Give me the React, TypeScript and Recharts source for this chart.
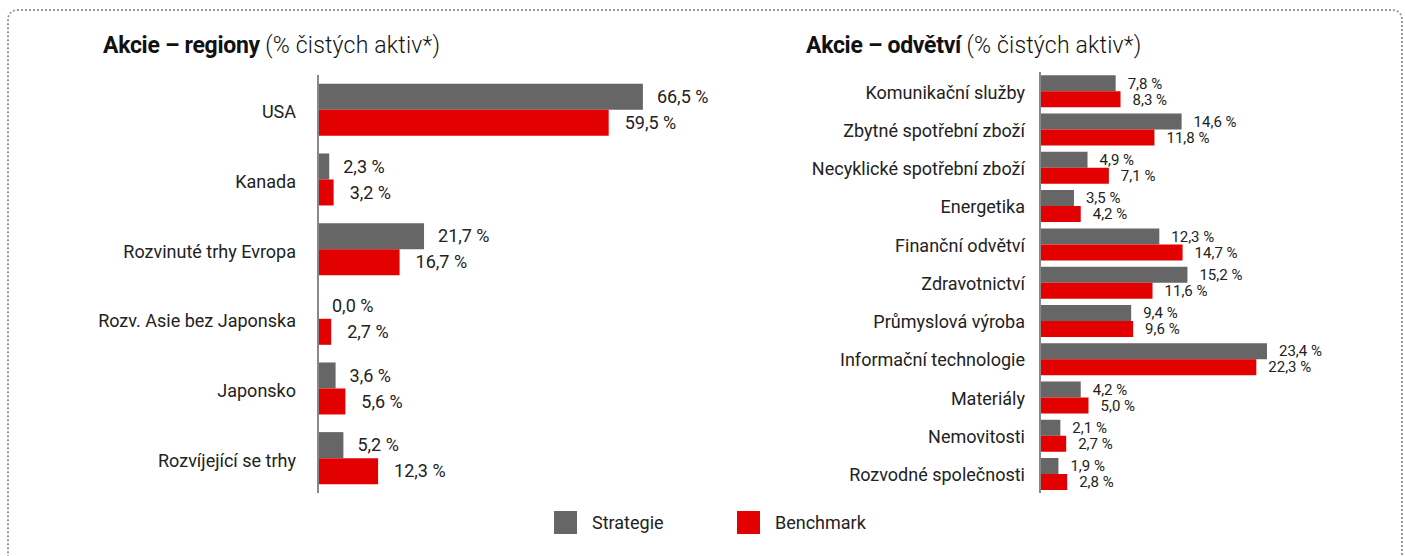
import { BarChart, Bar, XAxis, YAxis, LabelList } from "recharts";

const GRAY = "#666666";
const RED = "#e20000";
const FONT = "Roboto, 'Noto Sans', sans-serif";

const regions = [
  "USA",
  "Kanada",
  "Rozvinuté trhy Evropa",
  "Rozv. Asie bez Japonska",
  "Japonsko",
  "Rozvíjející se trhy",
];
const regionStrategy = [66.5, 2.3, 21.7, 0.0, 3.6, 5.2];
const regionBenchmark = [59.5, 3.2, 16.7, 2.7, 5.6, 12.3];

const sectors = [
  "Komunikační služby",
  "Zbytné spotřební zboží",
  "Necyklické spotřební zboží",
  "Energetika",
  "Finanční odvětví",
  "Zdravotnictví",
  "Průmyslová výroba",
  "Informační technologie",
  "Materiály",
  "Nemovitosti",
  "Rozvodné společnosti",
];
const sectorStrategy = [7.8, 14.6, 4.9, 3.5, 12.3, 15.2, 9.4, 23.4, 4.2, 2.1, 1.9];
const sectorBenchmark = [8.3, 11.8, 7.1, 4.2, 14.7, 11.6, 9.6, 22.3, 5.0, 2.7, 2.8];

const regionData = regions.map((name, i) => ({
  name,
  strategy: regionStrategy[i],
  benchmark: regionBenchmark[i],
}));
const sectorData = sectors.map((name, i) => ({
  name,
  strategy: sectorStrategy[i],
  benchmark: sectorBenchmark[i],
}));

const fmt = (v: number) => `${Number(v).toFixed(1).replace(".", ",")} %`;

// value label to the right of the bar end
const valueLabel = (offset: number, size: number) => (p: any) => {
  const { x, y, width, height, value } = p;
  if (value == null) return null;
  const v = Array.isArray(value) ? value[1] - value[0] : Number(value);
  const w = v === 0 ? 0 : Number(width || 0);
  return (
    <text
      x={Number(x) + w + offset}
      y={Number(y) + Number(height) / 2}
      dy="0.35em"
      fill="#222"
      fontSize={size}
      fontFamily={FONT}
    >
      {fmt(v)}
    </text>
  );
};

function Title({ bold, rest, left }: { bold: string; rest: string; left: number }) {
  return (
    <div
      style={{
        position: "absolute",
        left,
        top: 32,
        fontFamily: FONT,
        fontSize: 23,
        color: "#111",
        whiteSpace: "nowrap",
        letterSpacing: -0.3,
      }}
    >
      <b>{bold}</b> <span style={{ fontWeight: 300, letterSpacing: 0.2 }}>{rest}</span>
    </div>
  );
}

export default function App() {
  return (
    <div
      style={{
        position: "absolute",
        left: 0,
        top: 0,
        width: 1405,
        height: 556,
        overflow: "hidden",
        background: "#fff",
      }}
    >
      <div
        style={{
          position: "absolute",
          left: 7,
          top: 9,
          width: 1392,
          height: 620,
          border: "2px dotted #9a9a9a",
          borderRadius: 10,
        }}
      />
      <Title left={103} bold="Akcie – regiony" rest="(% čistých aktiv*)" />
      <Title left={806} bold="Akcie – odvětví" rest="(% čistých aktiv*)" />

      <div style={{ position: "absolute", left: 0, top: 0 }}>
        <BarChart
          width={760}
          height={556}
          data={regionData}
          layout="vertical"
          margin={{ top: 75, right: 100, bottom: 63, left: 0 }}
          barCategoryGap={8.8}
          barGap={0}
        >
          <XAxis type="number" domain={[0, 70]} hide />
          <YAxis
            type="category"
            dataKey="name"
            width={318}
            tickLine={false}
            tickMargin={16}
            axisLine={{ stroke: "#888", strokeWidth: 2 }}
            tick={{ fill: "#222", fontSize: 18, fontFamily: FONT, dy: 2 }}
            interval={0}
          />
          <Bar dataKey="strategy" fill={GRAY} minPointSize={0.5} isAnimationActive={false}>
            <LabelList dataKey="strategy" content={valueLabel(14, 18)} />
          </Bar>
          <Bar dataKey="benchmark" fill={RED} isAnimationActive={false}>
            <LabelList dataKey="benchmark" content={valueLabel(16, 18)} />
          </Bar>
        </BarChart>
      </div>

      <div style={{ position: "absolute", left: 700, top: 0 }}>
        <BarChart
          width={705}
          height={556}
          data={sectorData}
          layout="vertical"
          margin={{ top: 72, right: 74, bottom: 63, left: 0 }}
          barCategoryGap={3.3}
          barGap={0}
        >
          <XAxis type="number" domain={[0, 30]} hide />
          <YAxis
            type="category"
            dataKey="name"
            width={340}
            tickLine={false}
            tickMargin={9}
            axisLine={{ stroke: "#888", strokeWidth: 2 }}
            tick={{ fill: "#222", fontSize: 18, fontFamily: FONT, dy: 1 }}
            interval={0}
          />
          <Bar dataKey="strategy" fill={GRAY} isAnimationActive={false}>
            <LabelList dataKey="strategy" content={valueLabel(12, 15)} />
          </Bar>
          <Bar dataKey="benchmark" fill={RED} isAnimationActive={false}>
            <LabelList dataKey="benchmark" content={valueLabel(12, 15)} />
          </Bar>
        </BarChart>
      </div>

      {[
        { label: "Strategie", color: GRAY, left: 554 },
        { label: "Benchmark", color: RED, left: 737 },
      ].map((it) => (
        <div
          key={it.label}
          style={{
            position: "absolute",
            left: it.left,
            top: 511,
            display: "flex",
            alignItems: "center",
            fontFamily: FONT,
            fontSize: 18,
            color: "#222",
          }}
        >
          <span style={{ width: 23, height: 23, background: it.color, marginRight: 15 }} />
          {it.label}
        </div>
      ))}
    </div>
  );
}
